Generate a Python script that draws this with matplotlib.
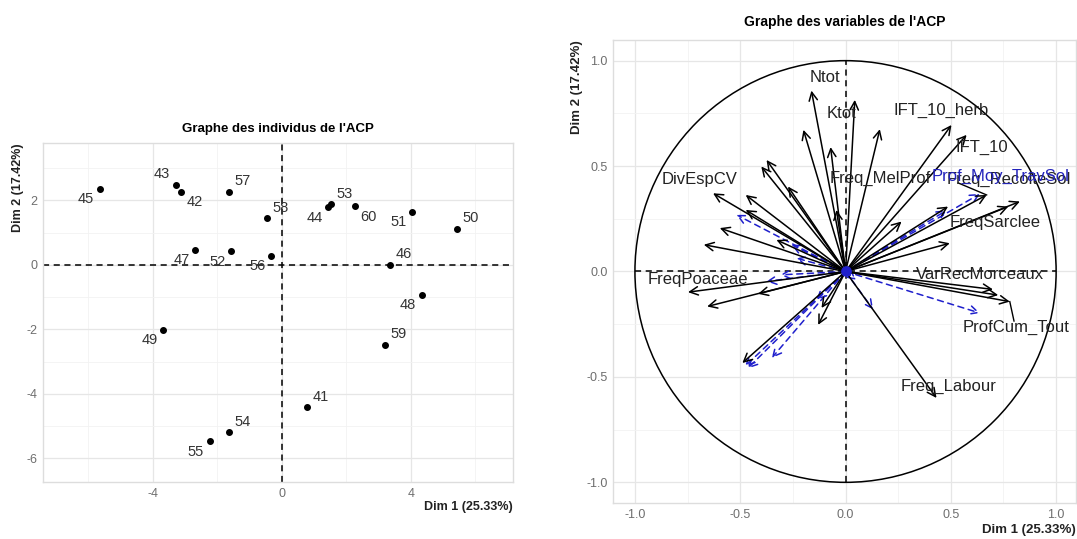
import numpy as np
import matplotlib
matplotlib.use("Agg")
import matplotlib.pyplot as plt
from matplotlib.patches import Circle

plt.rcParams['font.family'] = ['Liberation Sans', 'DejaVu Sans']

# individuals (left panel)
ind_labels = ['45', '43', '42', '57', '47', '52', '56', '58', '44', '53',
              '60', '51', '50', '46', '48', '49', '59', '41', '54', '55']
ind_x = [-5.63, -3.29, -3.13, -1.63, -2.68, -1.56, -0.32, -0.45, 1.45, 1.52,
         2.26, 4.05, 5.44, 3.36, 4.35, -3.67, 3.20, 0.79, -1.64, -2.23]
ind_y = [2.36, 2.49, 2.26, 2.27, 0.46, 0.42, 0.29, 1.44, 1.78, 1.88,
         1.81, 1.64, 1.12, 0.00, -0.93, -2.02, -2.47, -4.42, -5.19, -5.47]
# side of the label relative to the point (repel-like placement)
ind_side = [(-1, -1), (-1, 1), (1, -1), (1, 1), (-1, -1), (-1, -1), (-1, -1), (1, 1), (-1, -1), (1, 1),
            (1, -1), (-1, -1), (1, 1), (1, 1), (-1, -1), (-1, -1), (1, 1), (1, 1), (1, 1), (-1, -1)]

# active variables (black arrows)
var_x = [-0.162, 0.044, -0.200, -0.071, 0.163, 0.503, 0.575, -0.375, -0.400, -0.273,
         -0.629, -0.474, -0.474, -0.597, -0.673, -0.328, -0.043, 0.670, 0.828, 0.773,
         0.487, 0.266, 0.495, 0.700, 0.725, 0.780, 0.432, -0.748, -0.657, -0.415,
         -0.490, -0.130, -0.114]
var_y = [0.858, 0.814, 0.672, 0.590, 0.675, 0.695, 0.648, 0.529, 0.498, 0.403,
         0.371, 0.363, 0.292, 0.206, 0.127, 0.150, 0.292, 0.363, 0.332, 0.308,
         0.308, 0.237, 0.134, -0.085, -0.112, -0.143, -0.600, -0.098, -0.166, -0.106,
         -0.434, -0.253, -0.173]

# supplementary variables (blue dashed arrows)
sup_x = [-0.518, -0.257, -0.233, -0.375, -0.310, -0.478, -0.465, -0.350, 0.638, 0.480,
         0.638, 0.131, -0.138, 0.050]
sup_y = [0.269, 0.127, 0.063, -0.047, -0.016, -0.450, -0.460, -0.410, 0.368, 0.290,
         -0.197, -0.180, -0.134, -0.040]

# variable labels and where they sit
var_names = ['Ntot', 'Ktot', 'IFT_10_herb', 'IFT_10', 'Freq_MelProf', 'Freq_RecolteSol',
             'FreqSarclee', 'DivEspCV', 'FreqPoaceae', 'VarRecMorceaux', 'ProfCum_Tout', 'Freq_Labour']
var_lab_x = [-0.098, -0.020, 0.456, 0.646, 0.165, 0.775, 0.709, -0.692, -0.700, 0.638, 0.812, 0.487]
var_lab_y = [0.921, 0.750, 0.763, 0.590, 0.443, 0.436, 0.232, 0.435, -0.040, -0.016, -0.265, -0.545]
sup_names = ['Prof_Moy_TravSol']
sup_lab_x = [0.735]
sup_lab_y = [0.450]

GRID_MAJ = '#E6E6E6'
GRID_MIN = '#F2F2F2'
TICK_COL = '#6E6E6E'


def style_axes(ax, majors_x, minors_x, majors_y, minors_y):
    ax.set_xticks(majors_x)
    ax.set_yticks(majors_y)
    ax.set_xticks(minors_x, minor=True)
    ax.set_yticks(minors_y, minor=True)
    ax.grid(True, which='major', color=GRID_MAJ, lw=0.9, zorder=0)
    ax.grid(True, which='minor', color=GRID_MIN, lw=0.6, zorder=0)
    ax.set_axisbelow(True)
    ax.tick_params(which='both', length=0, labelsize=9, labelcolor=TICK_COL, pad=4)
    for s in ax.spines.values():
        s.set_color('#DDDDDD')
        s.set_linewidth(1.0)


fig = plt.figure(figsize=(10.77, 5.39), dpi=100)

# ---------- individuals ----------
ax1 = fig.add_axes([0.0399, 0.1058, 0.4364, 0.629])
ax1.set_xlim(-7.4, 7.17)
ax1.set_ylim(-6.73, 3.78)
style_axes(ax1, [-4, 0, 4], [-6, -2, 2, 6], [-6, -4, -2, 0, 2], [-5, -3, -1, 1, 3])
ax1.set_xticklabels(['-4', '0', '4'])
ax1.set_yticklabels(['-6', '-4', '-2', '0', '2'])
ax1.axhline(0, color='black', ls='--', lw=1.1, dashes=(4, 3), zorder=1)
ax1.axvline(0, color='black', ls='--', lw=1.1, dashes=(4, 3), zorder=1)
ax1.scatter(ind_x, ind_y, s=16, color='black', zorder=3)
for lab, x, y, (sx, sy) in zip(ind_labels, ind_x, ind_y, ind_side):
    ax1.annotate(lab, (x, y), xytext=(10 * sx, 7.5 * sy), textcoords='offset points',
                 ha='center', va='center', fontsize=10.5, color='#333333')
ax1.set_title("Graphe des individus de l'ACP", fontsize=9.5, fontweight='bold', pad=8)
ax1.text(1.0, -0.074, 'Dim 1 (25.33%)', transform=ax1.transAxes, ha='right', va='center',
         fontsize=9, fontweight='bold', color='#222222')
ax1.text(-0.053, 1.0, 'Dim 2 (17.42%)', transform=ax1.transAxes, ha='center', va='top',
         rotation=90, fontsize=9, fontweight='bold', color='#222222')

# ---------- variables ----------
ax2 = fig.add_axes([0.5692, 0.0668, 0.4298, 0.859])
ax2.set_xlim(-1.104, 1.094)
ax2.set_ylim(-1.098, 1.098)
style_axes(ax2, [-1, -0.5, 0, 0.5, 1], [-0.75, -0.25, 0.25, 0.75],
           [-1, -0.5, 0, 0.5, 1], [-0.75, -0.25, 0.25, 0.75])
ax2.set_xticklabels(['-1.0', '-0.5', '0.0', '0.5', '1.0'])
ax2.set_yticklabels(['-1.0', '-0.5', '0.0', '0.5', '1.0'])
ax2.add_patch(Circle((0, 0), 1.0, fill=False, color='black', lw=1.1, zorder=2))
ax2.plot([-1, 1], [0, 0], color='black', ls='--', lw=1.1, dashes=(4, 3), zorder=1)
ax2.plot([0, 0], [-1, 1], color='black', ls='--', lw=1.1, dashes=(4, 3), zorder=1)

for x, y in zip(var_x, var_y):
    ax2.annotate('', xy=(x, y), xytext=(0, 0),
                 arrowprops=dict(arrowstyle='->,head_length=0.6,head_width=0.3',
                                 color='black', lw=1.1, shrinkA=0, shrinkB=0), zorder=4)
for x, y in zip(sup_x, sup_y):
    ax2.annotate('', xy=(x, y), xytext=(0, 0),
                 arrowprops=dict(arrowstyle='->,head_length=0.6,head_width=0.3',
                                 color='#1F1FCC', lw=1.1, ls=(0, (4, 3)),
                                 shrinkA=0, shrinkB=0), zorder=3)
ax2.scatter([0], [0], s=45, color='#1F1FCC', zorder=5)

# label leader segments
ax2.plot([0.780, 0.800], [-0.143, -0.235], color='black', lw=1.0, zorder=4)
ax2.plot([0.670, 0.535], [0.363, 0.420], color='black', lw=1.0, zorder=4)

for name, x, y in zip(var_names, var_lab_x, var_lab_y):
    ax2.text(x, y, name, ha='center', va='center', fontsize=12, color='#222222', zorder=6)
for name, x, y in zip(sup_names, sup_lab_x, sup_lab_y):
    ax2.text(x, y, name, ha='center', va='center', fontsize=12, color='#2222BB', zorder=6)

ax2.set_title("Graphe des variables de l'ACP", fontsize=10, fontweight='bold', pad=10)
ax2.text(1.0, -0.058, 'Dim 1 (25.33%)', transform=ax2.transAxes, ha='right', va='center',
         fontsize=9.5, fontweight='bold', color='#222222')
ax2.text(-0.078, 1.0, 'Dim 2 (17.42%)', transform=ax2.transAxes, ha='center', va='top',
         rotation=90, fontsize=9.5, fontweight='bold', color='#222222')

fig.savefig('out.png', dpi=100)
